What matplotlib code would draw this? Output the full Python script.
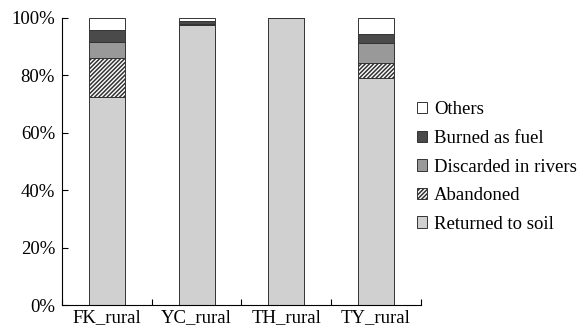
import numpy as np
import matplotlib
matplotlib.use('Agg')
import matplotlib.pyplot as plt
from matplotlib.ticker import FixedLocator, PercentFormatter

plt.rcParams['font.family'] = ['Liberation Serif', 'DejaVu Serif']
plt.rcParams['hatch.color'] = '#333333'
plt.rcParams['hatch.linewidth'] = 1.1

############################################################
# Data (percent of straw use)

sites = ['FK_rural', 'YC_rural', 'TH_rural', 'TY_rural']
returned = [72.5, 97.6, 100.0, 79.0]
abandoned = [13.5, 0.0, 0.0, 5.4]
discarded = [5.7, 0.4, 0.0, 7.0]
burned = [4.1, 1.0, 0.0, 3.0]
others = [4.2, 1.0, 0.0, 5.6]

series = [
    ('Returned to soil', returned, '#d0d0d0', None),
    ('Abandoned', abandoned, 'white', '////////'),
    ('Discarded in rivers', discarded, '#999999', None),
    ('Burned as fuel', burned, '#4a4a4a', None),
    ('Others', others, 'white', None),
]

############################################################
# Plotting

fs = 13.5
fig = plt.figure(figsize=(5.79, 3.26), dpi=100)
ax = fig.add_axes([0.107, 0.064, 0.62, 0.881])

x = np.arange(len(sites))
bottom = np.zeros(len(sites))
handles = []
for name, vals, col, hatch in series:
    vals = np.array(vals)
    b = ax.bar(x, vals, 0.4, bottom=bottom, color=col, hatch=hatch,
               edgecolor='#333333', linewidth=0.7, label=name)
    handles.append(b)
    bottom += vals

ax.set_xlim(-0.5, 3.5)
ax.set_ylim(0, 100)
ax.yaxis.set_major_locator(FixedLocator([0, 20, 40, 60, 80, 100]))
ax.yaxis.set_major_formatter(PercentFormatter(decimals=0))
ax.set_xticks(x)
ax.set_xticklabels(sites)
ax.set_xticks([-0.5, 0.5, 1.5, 2.5, 3.5], minor=True)
ax.tick_params(axis='x', which='major', length=0, labelsize=fs, pad=3)
ax.tick_params(axis='x', which='minor', direction='in', length=4, width=0.8)
ax.tick_params(axis='y', direction='in', length=4, width=0.8, labelsize=fs, pad=5)

for s in ['top', 'right']:
    ax.spines[s].set_visible(False)
for s in ['left', 'bottom']:
    ax.spines[s].set_linewidth(0.8)

ax.legend(handles[::-1], [s[0] for s in series][::-1],
          loc='center left', bbox_to_anchor=(417 / 579, 1 - 167 / 326),
          bbox_transform=fig.transFigure, frameon=False,
          fontsize=fs, handlelength=0.55, handleheight=0.55,
          handletextpad=0.35, labelspacing=0.62, borderaxespad=0, borderpad=0)

fig.savefig('out.png', dpi=100)
